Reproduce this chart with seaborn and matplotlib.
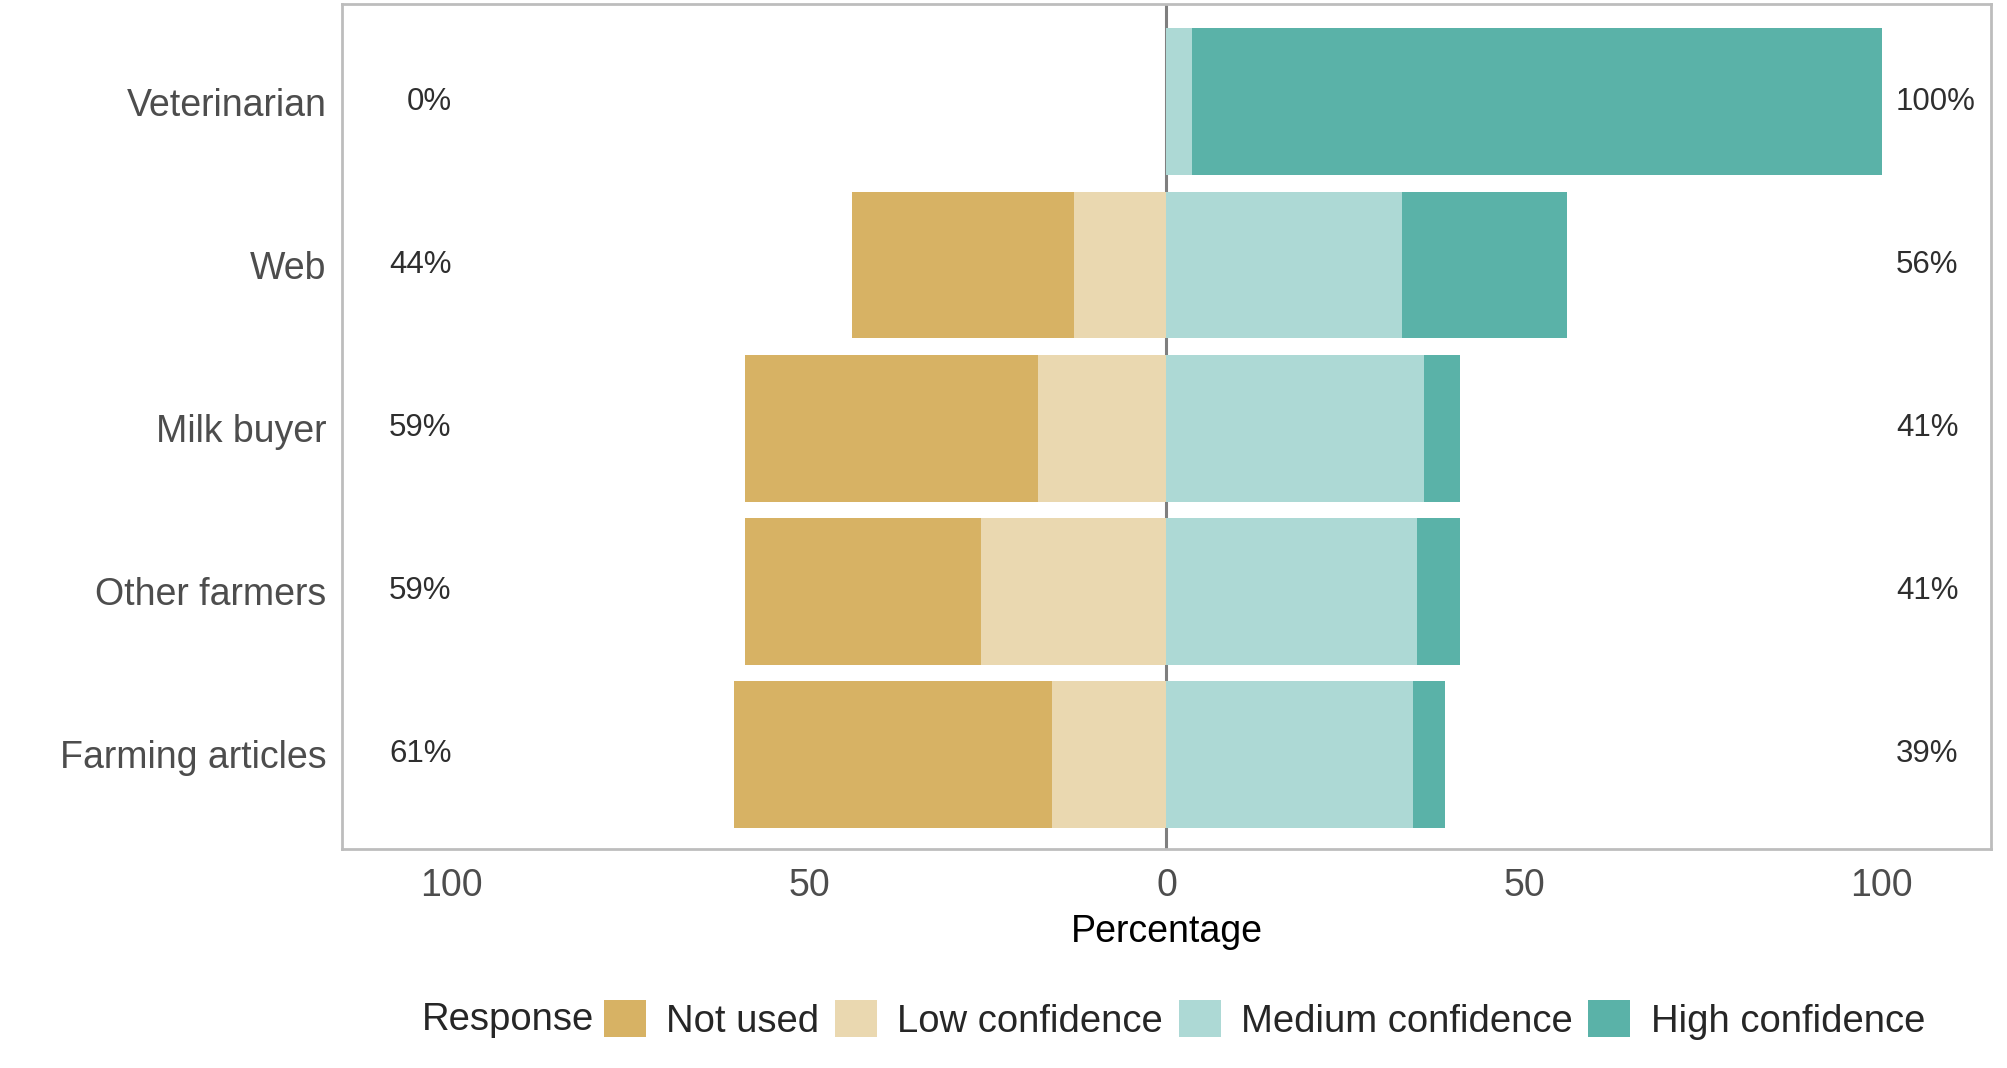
import numpy as np
import pandas as pd
import matplotlib.pyplot as plt
from matplotlib.patches import Patch
import seaborn as sns

# data (percentages)
categories = ["Veterinarian", "Web", "Milk buyer", "Other farmers", "Farming articles"]
not_used = [0, 31, 41, 33, 44.5]
low_conf = [0, 13, 18, 26, 16]
medium_conf = [3.5, 33, 36, 35, 34.5]
high_conf = [96.5, 23, 5, 6, 4.5]
left_labels = ["0%", "44%", "59%", "59%", "61%"]
right_labels = ["100%", "56%", "41%", "41%", "39%"]
responses = ["Not used", "Low confidence", "Medium confidence", "High confidence"]
colors = {"Not used": "#D7B264", "Low confidence": "#EAD8B0",
          "Medium confidence": "#ADD9D5", "High confidence": "#5AB2A8"}

sns.set_style("white")
plt.rcParams['font.family'] = ['Liberation Sans', 'DejaVu Sans']

df = pd.DataFrame({"item": categories, "not_used": not_used, "low": low_conf,
                   "medium": medium_conf, "high": high_conf})
# cumulative extents, outer segments are drawn first and overlaid by inner ones
df["neg_outer"] = -(df["not_used"] + df["low"])
df["neg_inner"] = -df["low"]
df["pos_outer"] = df["medium"] + df["high"]
df["pos_inner"] = df["medium"]

fig = plt.figure(figsize=(20.08, 10.68), dpi=100)
ax = fig.add_axes([342 / 2008, 1 - 849 / 1068, (1991 - 342) / 2008, (849 - 4) / 1068])

ax.axvline(0, color="#7F7F7F", lw=2.2, zorder=0)

kw = dict(y="item", orient="h", width=0.9, saturation=1, errorbar=None, ax=ax,
          zorder=2, linewidth=0, edgecolor="none")
sns.barplot(data=df, x="neg_outer", color=colors["Not used"], **kw)
sns.barplot(data=df, x="neg_inner", color=colors["Low confidence"], **kw)
sns.barplot(data=df, x="pos_outer", color=colors["High confidence"], **kw)
sns.barplot(data=df, x="pos_inner", color=colors["Medium confidence"], **kw)

# percent labels at both sides
for i, (l, r) in enumerate(zip(left_labels, right_labels)):
    ax.text(-100, i, l, ha="right", va="center", fontsize=22.5, color="#2E2E2E")
    ax.text(102, i, r, ha="left", va="center", fontsize=22.5, color="#2E2E2E")

ax.set_xlim(-115.3, 115.3)
ax.set_ylim(4.58, -0.6)
ax.set_xticks([-100, -50, 0, 50, 100], labels=["100", "50", "0", "50", "100"])
ax.tick_params(axis="both", length=0, labelsize=27, labelcolor="#4D4D4D")
ax.tick_params(axis="x", pad=14)
ax.tick_params(axis="y", pad=11)
ax.set_ylabel("")
ax.set_xlabel("Percentage", fontsize=27, color="black", labelpad=7)
for s in ax.spines.values():
    s.set_color("#BDBDBD")
    s.set_linewidth(2)

# legend at the bottom, "Response" title on the left
handles = [Patch(facecolor=colors[r], edgecolor="none") for r in responses]
fig.legend(handles, responses, loc="center left", bbox_to_anchor=(604 / 2008, 0.045),
           ncol=4, frameon=False, fontsize=27.5, handlelength=1.1, handleheight=1.1,
           handletextpad=0.53, columnspacing=0.41, borderpad=0, borderaxespad=0)
fig.text(594 / 2008, 0.045, "Response", ha="right", va="center", fontsize=27.5)

fig.savefig("out.png", dpi=100)
